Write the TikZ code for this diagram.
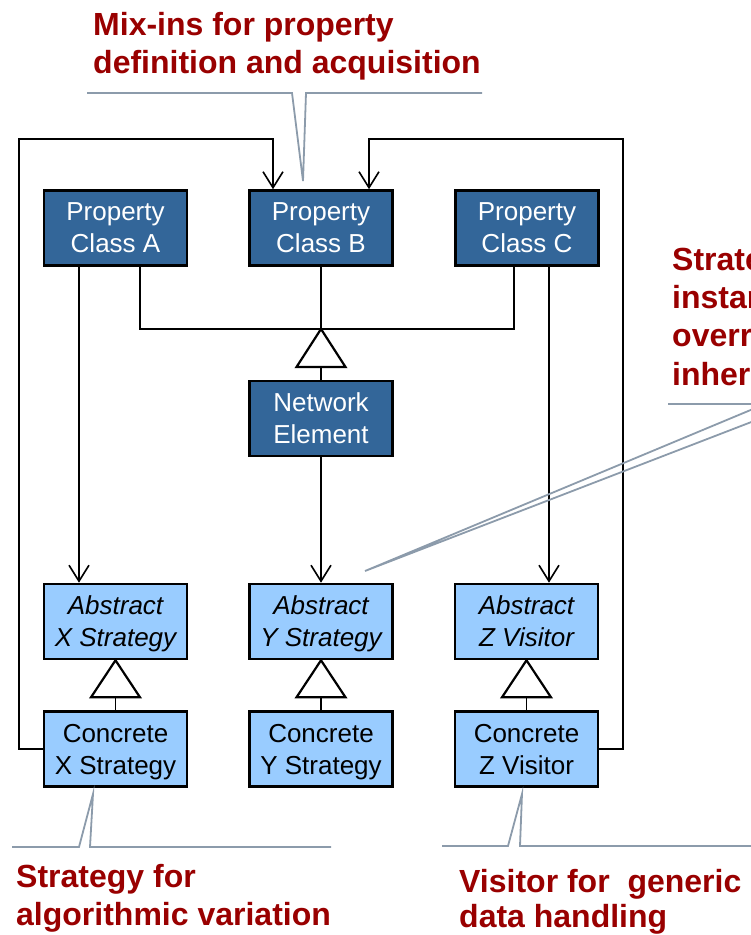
\documentclass[tikz,border=0pt]{standalone}
\usepackage{fontspec}
\setmainfont{Liberation Sans}
\usetikzlibrary{arrows.meta}

\definecolor{darkbox}{HTML}{336699}
\definecolor{lightbox}{HTML}{99CCFF}
\definecolor{notered}{HTML}{990000}
\definecolor{calloutgrey}{HTML}{8C9BAB}

\tikzset{
  classbox/.style={draw=black, line width=2.6pt, rectangle, inner sep=0pt,
    minimum width=143pt, minimum height=75pt, align=center,
    font=\fontsize{26}{32}\selectfont},
  darkclass/.style={classbox, fill=darkbox, text=white},
  lightclass/.style={classbox, fill=lightbox, text=black},
  abstractclass/.style={lightclass, font=\fontsize{26}{32}\selectfont\itshape},
  conn/.style={draw=black, line width=1.6pt},
  arr/.style={conn, -{Straight Barb[length=16pt, width=20pt, line width=1.6pt]}},
  tri/.style={draw=black, line width=2.2pt, fill=white, line join=miter},
  callout/.style={draw=calloutgrey, line width=1.8pt, line join=miter},
  note/.style={text=notered, font=\fontsize{32}{38}\selectfont\bfseries,
    inner sep=0pt, anchor=base west},
}

\begin{document}
\begin{tikzpicture}[x=1pt, y=-1pt]
\useasboundingbox (0,0) rectangle (751,935);

% class boxes
\begin{scope}[every node/.append style={text depth=0pt}]
\node[darkclass] (pa) at (115.5,228) {Property\\Class A};
\node[darkclass] (pb) at (321,228) {Property\\Class B};
\node[darkclass] (pc) at (527,228) {Property\\Class C};
\node[darkclass] (ne) at (321,418.5) {Network\\Element};

\node[abstractclass] (ax) at (115.5,621.5) {Abstract\\X Strategy};
\node[abstractclass] (ay) at (321,621.5) {Abstract\\Y Strategy};
\node[abstractclass] (az) at (526.5,621.5) {Abstract\\Z Visitor};

\node[lightclass] (cx) at (115.5,749) {Concrete\\X Strategy};
\node[lightclass] (cy) at (321,749) {Concrete\\Y Strategy};
\node[lightclass] (cz) at (526.5,749) {Concrete\\Z Visitor};
\end{scope}

% mix-in generalisation: property classes join above Network Element
\coordinate (joint) at (321,329);
\coordinate (jointbase) at (321,368);
\draw[conn] ([xshift=24.5pt]pa.south) |- (joint) -| ([xshift=-13pt]pc.south);
\draw[conn] (pb.south) -- (joint);
\draw[conn] (jointbase) -- (ne.north);
\draw[tri] (joint) -- ++(-24.5,38) -- ++(49,0) -- cycle;

% associations to the abstract strategies and visitor
\draw[arr] ([xshift=-36.5pt]pa.south) -- ([xshift=-36.5pt]ax.north);
\draw[arr] (ne.south) -- (ay.north);
\draw[arr] ([xshift=22pt]pc.south) -- ([xshift=22pt]pc.south |- az.north);

% concrete classes inherit from the abstract ones
\foreach \a/\c in {ax/cx, ay/cy, az/cz}{
  \draw[conn] (\a.south) -- (\c.north);
  \draw[tri] (\a.south) -- ++(-24.5,37) -- ++(49,0) -- cycle;
}

% concrete classes feed back into Property Class B
\coordinate (loopL) at (19,139);
\coordinate (loopR) at (623,139);
\draw[arr] (cx.west) -| (loopL) -| ([xshift=-48pt]pb.north);
\draw[arr] (cz.east) -| (loopR) -| ([xshift=48pt]pb.north);

% callouts
\draw[callout] (87,93) -- (292,93) -- (303,181) -- (306,93) -- (482,93);
\draw[callout] (12,847) -- (79,847) -- (93,794) -- (90,847) -- (331,847);
\draw[callout] (442,846) -- (508,846) -- (522,794) -- (520,846) -- (760,846);

\node[note] (n1a) at (93,35) {Mix-ins for property};
\node[note] (n1b) at (93,73) {definition and acquisition};
\node[note] (n2a) at (16,887) {Strategy for};
\node[note] (n2b) at (16,925) {algorithmic variation};
\node[note] (n3a) at (459,892) {Visitor for\ \ generic};
\node[note] (n3b) at (459,927) {data handling};

\begin{scope}
  \clip (0,0) rectangle (751,935);
  \draw[callout] (668,404) -- (765,404) -- (365,571) -- (798,404) -- (900,404);
  \node[note] (n4a) at (672,270) {Strategy for};
  \node[note] (n4b) at (672,308) {instance-specific};
  \node[note] (n4c) at (672,346) {override of};
  \node[note] (n4d) at (672,385) {inherited behavior};
\end{scope}
\end{tikzpicture}
\end{document}
